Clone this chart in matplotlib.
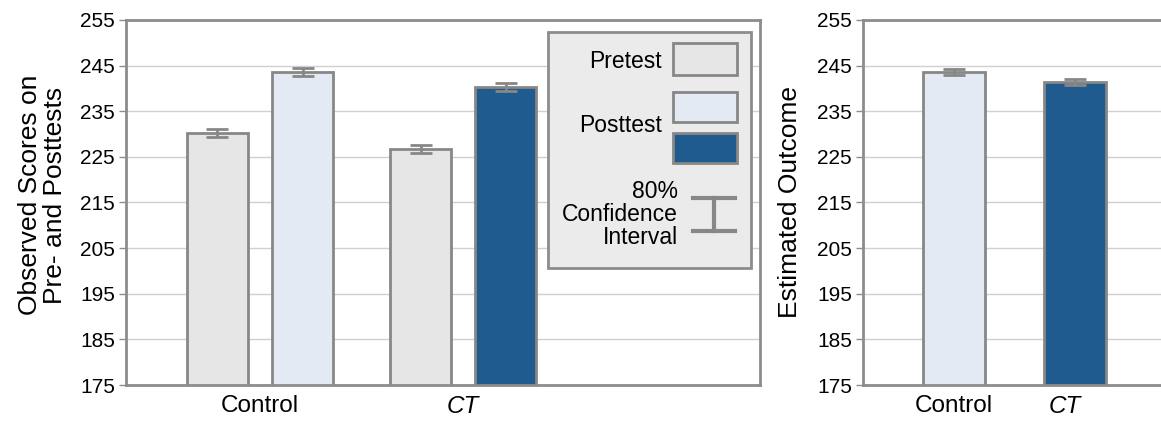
import numpy as np
import matplotlib.pyplot as plt
from matplotlib.patches import Rectangle

plt.rcParams['font.family'] = ['Liberation Sans', 'DejaVu Sans']

groups = ['Control', 'CT']
pretest = [230.2, 226.7]
pretest_err = [0.9, 0.9]
posttest = [243.6, 240.3]
posttest_err = [0.9, 0.9]
estimated = [243.6, 241.4]
estimated_err = [0.75, 0.75]
yticks = [175, 185, 195, 205, 215, 225, 235, 245, 255]

c_pre = '#e6e6e6'
c_post_ctrl = '#e4eaf4'
c_post_ct = '#1f5b8e'
c_edge = '#878787'

fig = plt.figure(figsize=(11.61, 4.23), dpi=100)
ax1 = fig.add_axes([0.1085, 0.0898, 0.546, 0.863])
ax2 = fig.add_axes([0.7433, 0.0898, 0.2687, 0.863])


def style(ax):
    ax.set_ylim(175, 255)
    ax.set_yticks(yticks)
    ax.yaxis.grid(True, color='#d0d0d0', linewidth=1)
    ax.set_axisbelow(True)
    for s in ax.spines.values():
        s.set_color('#8c8c8c')
        s.set_linewidth(2)
    ax.tick_params(axis='y', labelsize=15, length=5, width=1, color='#8c8c8c', pad=3)
    ax.tick_params(axis='x', labelsize=17.5, length=0, pad=7)


x = np.arange(len(groups))
off = 0.21
w = 0.30
eb = dict(ecolor=c_edge, elinewidth=2, capsize=8, capthick=2)
ax1.bar(x - off, pretest, w, color=c_pre, edgecolor=c_edge, linewidth=2,
        yerr=pretest_err, error_kw=eb)
ax1.bar(x + off, posttest, w, color=[c_post_ctrl, c_post_ct], edgecolor=c_edge,
        linewidth=2, yerr=posttest_err, error_kw=eb)
style(ax1)
ax1.set_xlim(-0.66, 2.46)
ax1.set_xticks(x)
ax1.set_xticklabels(groups)
ax1.get_xticklabels()[1].set_style('italic')
ax1.set_ylabel('Observed Scores on\nPre- and Posttests', fontsize=19, linespacing=1.05)
ax1.yaxis.set_label_coords(-0.093, 0.52)

# legend box drawn by hand
t = ax1.transAxes
ax1.add_patch(Rectangle((0.666, 0.3205), 0.32, 0.6465, transform=t, facecolor='#ebebeb',
                        edgecolor='#8c8c8c', linewidth=2, zorder=5))
ax1.add_patch(Rectangle((0.863, 0.849), 0.101, 0.088, transform=t, facecolor=c_pre,
                        edgecolor=c_edge, linewidth=2, zorder=6))
ax1.add_patch(Rectangle((0.863, 0.7205), 0.101, 0.0825, transform=t, facecolor=c_post_ctrl,
                        edgecolor=c_edge, linewidth=2, zorder=6))
ax1.add_patch(Rectangle((0.863, 0.608), 0.101, 0.082, transform=t, facecolor=c_post_ct,
                        edgecolor=c_edge, linewidth=2, zorder=6))
ax1.plot([0.894, 0.960], [0.512, 0.512], transform=t, color=c_edge, lw=3, zorder=6)
ax1.plot([0.894, 0.960], [0.422, 0.422], transform=t, color=c_edge, lw=3, zorder=6)
ax1.plot([0.927, 0.927], [0.422, 0.512], transform=t, color=c_edge, lw=3, zorder=6)
ax1.text(0.845, 0.885, 'Pretest', transform=t, ha='right', va='center', fontsize=16.5, zorder=7)
ax1.text(0.845, 0.712, 'Posttest', transform=t, ha='right', va='center', fontsize=16.5, zorder=7)
ax1.text(0.871, 0.468, '80%\nConfidence\nInterval', transform=t, ha='right', va='center',
         fontsize=16.5, linespacing=1.0, zorder=7)

ax2.bar(x, estimated, 0.512, color=[c_post_ctrl, c_post_ct], edgecolor=c_edge, linewidth=2,
        yerr=estimated_err, error_kw=eb)
style(ax2)
ax2.spines['right'].set_visible(False)
ax2.set_xlim(-0.752, 1.826)
ax2.set_xticks([0, 0.92])
ax2.set_xticklabels(groups)
ax2.get_xticklabels()[1].set_style('italic')
ax2.set_ylabel('Estimated Outcome', fontsize=19)
ax2.yaxis.set_label_coords(-0.196, 0.5)

fig.savefig('out.png', dpi=100)
